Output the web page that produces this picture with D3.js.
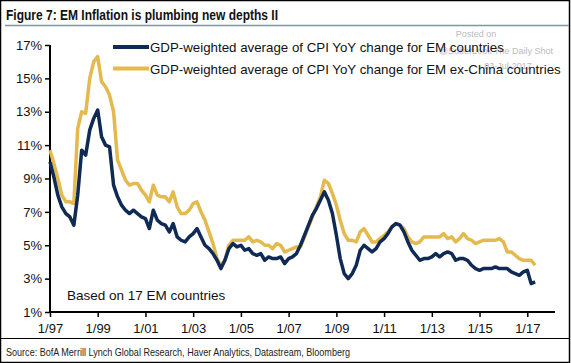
<!DOCTYPE html>
<html>
<head>
<meta charset="utf-8">
<script src="https://cdn.jsdelivr.net/npm/d3@7"></script>
<style>
  body { margin: 0; background: #fff; }
  svg { display: block; }
</style>
</head>
<body>
<svg id="chart"></svg>
<script>
// sample months (every two months, Jan 1997 - May 2017)
var months = [
  "1997-01","1997-03","1997-05","1997-07","1997-09","1997-11",
  "1998-01","1998-03","1998-05","1998-07","1998-09","1998-11",
  "1999-01","1999-03","1999-05","1999-07","1999-09","1999-11",
  "2000-01","2000-03","2000-05","2000-07","2000-09","2000-11",
  "2001-01","2001-03","2001-05","2001-07","2001-09","2001-11",
  "2002-01","2002-03","2002-05","2002-07","2002-09","2002-11",
  "2003-01","2003-03","2003-05","2003-07","2003-09","2003-11",
  "2004-01","2004-03","2004-05","2004-07","2004-09","2004-11",
  "2005-01","2005-03","2005-05","2005-07","2005-09","2005-11",
  "2006-01","2006-03","2006-05","2006-07","2006-09","2006-11",
  "2007-01","2007-03","2007-05","2007-07","2007-09","2007-11",
  "2008-01","2008-03","2008-05","2008-07","2008-09","2008-11",
  "2009-01","2009-03","2009-05","2009-07","2009-09","2009-11",
  "2010-01","2010-03","2010-05","2010-07","2010-09","2010-11",
  "2011-01","2011-03","2011-05","2011-07","2011-09","2011-11",
  "2012-01","2012-03","2012-05","2012-07","2012-09","2012-11",
  "2013-01","2013-03","2013-05","2013-07","2013-09","2013-11",
  "2014-01","2014-03","2014-05","2014-07","2014-09","2014-11",
  "2015-01","2015-03","2015-05","2015-07","2015-09","2015-11",
  "2016-01","2016-03","2016-05","2016-07","2016-09","2016-11",
  "2017-01","2017-03","2017-05"
]

// GDP-weighted CPI YoY, EM countries (%)
var emAll = [
  10.0, 9.1, 8.0, 7.3, 6.9, 6.7,
  6.2, 8.0, 10.7, 10.4, 11.9, 12.6,
  13.1, 11.5, 11.0, 10.9, 8.6, 7.9,
  7.4, 7.1, 6.9, 7.1, 6.9, 6.7,
  6.6, 6.0, 7.1, 6.5, 6.3, 6.2,
  5.8, 6.3, 5.5, 5.3, 5.2, 5.5,
  5.7, 6.0, 5.5, 5.0, 4.8, 4.5,
  4.1, 3.6, 4.1, 4.8, 5.1, 4.9,
  5.0, 4.7, 4.8, 4.5, 4.4, 4.5,
  4.1, 4.3, 4.2, 4.2, 4.3, 3.9,
  4.2, 4.3, 4.5, 5.0, 5.6, 6.2,
  6.8, 7.2, 7.7, 8.2, 7.7, 6.9,
  5.6, 4.2, 3.3, 3.0, 3.3, 3.8,
  4.7, 5.0, 4.8, 4.6, 4.8, 5.2,
  5.4, 5.7, 6.1, 6.3, 6.2, 5.8,
  5.2, 4.7, 4.4, 4.1, 4.2, 4.2,
  4.3, 4.5, 4.3, 4.5, 4.6, 4.5,
  4.1, 4.2, 4.2, 4.1, 3.8, 3.6,
  3.5, 3.6, 3.6, 3.6, 3.7, 3.6,
  3.6, 3.6, 3.4, 3.3, 3.2, 3.4,
  3.5, 2.7, 2.8
]

// GDP-weighted CPI YoY, EM ex-China (%)
var emExChina = [
  10.7, 9.9, 9.0, 8.0, 7.6, 7.6,
  7.5, 12.0, 13.0, 12.9, 15.0, 16.0,
  16.3, 14.8, 14.5, 14.0, 13.0, 10.1,
  9.5, 8.9, 8.6, 8.7, 8.7, 8.3,
  8.0, 7.6, 8.6, 8.0, 7.9, 7.9,
  7.6, 8.2, 7.3, 6.9, 6.9, 7.1,
  7.5, 7.6, 7.0, 6.5, 5.8, 5.1,
  4.2, 3.8, 4.1, 5.0, 5.3, 5.3,
  5.3, 5.3, 5.5, 5.2, 5.3, 5.2,
  5.0, 5.0, 4.8, 5.1, 5.0, 4.6,
  4.7, 4.8, 4.9, 4.9, 5.5, 6.1,
  6.7, 7.3, 7.9, 8.9, 8.7, 8.1,
  7.4, 6.5, 5.7, 5.3, 5.3, 5.2,
  5.8, 6.0, 5.6, 5.2, 5.2, 5.4,
  5.6, 5.8, 6.1, 6.3, 6.2, 6.0,
  5.5, 5.2, 5.1, 5.2, 5.5, 5.5,
  5.5, 5.5, 5.5, 5.7, 5.4, 5.5,
  5.2, 5.4, 5.7, 5.4, 5.3, 5.1,
  5.2, 5.3, 5.3, 5.3, 5.3, 5.4,
  5.2, 4.6, 4.6, 4.4, 4.2, 4.1,
  4.1, 4.1, 3.8
]

var yTicks = [1, 3, 5, 7, 9, 11, 13, 15, 17]
var xTickYears = [1997, 1999, 2001, 2003, 2005, 2007, 2009, 2011, 2013, 2015, 2017]

var seriesNames = [
  "GDP-weighted average of CPI YoY change for EM countries",
  "GDP-weighted average of CPI YoY change for EM ex-China countries"
]
var seriesColors = ["#0f2a55", "#e4b94e"]

var W = 571, H = 363
var svg = d3.select("#chart").attr("width", W).attr("height", H)

// frame, title and rules
svg.append("rect")
    .attr("x", 0.5).attr("y", 0.5)
    .attr("width", W - 2).attr("height", H - 1)
    .attr("fill", "none").attr("stroke", "#000").attr("stroke-width", 1.5)

svg.append("text")
    .attr("x", 6).attr("y", 20)
    .attr("font-family", "'Liberation Sans Narrow', 'Arial Narrow', sans-serif")
    .attr("font-weight", "bold")
    .attr("font-size", 15)
    .attr("fill", "#111")
    .attr("textLength", 272)
    .attr("lengthAdjust", "spacingAndGlyphs")
    .text("Figure 7: EM Inflation is plumbing new depths II")

svg.append("line")
    .attr("x1", 5).attr("x2", W - 2)
    .attr("y1", 25.5).attr("y2", 25.5)
    .attr("stroke", "#7f93b2").attr("stroke-width", 1.5)

svg.append("line")
    .attr("x1", 1).attr("x2", W - 2)
    .attr("y1", 338.5).attr("y2", 338.5)
    .attr("stroke", "#000").attr("stroke-width", 1)

svg.append("text")
    .attr("x", 6).attr("y", 356)
    .attr("font-family", "'Liberation Sans Narrow', 'Arial Narrow', sans-serif")
    .attr("font-size", 11)
    .attr("fill", "#222")
    .attr("textLength", 344)
    .attr("lengthAdjust", "spacingAndGlyphs")
    .text("Source: BofA Merrill Lynch Global Research, Haver Analytics, Datastream, Bloomberg")

// scales
var parse = d3.timeParse("%Y-%m")
var x = d3.scaleTime()
    .domain([new Date(1997, 0, 1), new Date(2018, 2, 1)])
    .range([50, 555])
var y = d3.scaleLinear()
    .domain([1, 17])
    .range([312, 45])

var font = "'Liberation Sans', Arial, sans-serif"

// y axis
var yAxis = svg.append("g")
    .attr("transform", "translate(50,0)")
    .call(d3.axisLeft(y).tickValues(yTicks).tickSize(5).tickPadding(3).tickFormat(d => d + "%"))
yAxis.selectAll("text").attr("font-family", font).attr("font-size", 13).attr("fill", "#111")
yAxis.selectAll("line").attr("stroke", "#000").attr("stroke-width", 1.5)
yAxis.select(".domain").attr("stroke", "#000").attr("stroke-width", 2)
    .attr("d", "M0," + y(17) + "V" + y(1))

// x axis
var xAxis = svg.append("g")
    .attr("transform", "translate(0,312)")
    .call(d3.axisBottom(x)
        .tickValues(xTickYears.map(yr => new Date(yr, 0, 1)))
        .tickSize(5).tickPadding(7)
        .tickFormat(d3.timeFormat("1/%y")))
xAxis.selectAll("text").attr("font-family", font).attr("font-size", 13).attr("fill", "#111")
xAxis.selectAll("line").attr("stroke", "#000").attr("stroke-width", 1.5)
xAxis.select(".domain").attr("stroke", "#000").attr("stroke-width", 2)
    .attr("d", "M50,0H" + x.range()[1])

// watermark (sits behind the legend text, as in the original)
var wm = svg.append("g")
    .attr("font-family", font).attr("font-size", 9).attr("fill", "#bcbcbc")
    .attr("text-anchor", "middle")
wm.append("text").attr("x", 476).attr("y", 37).text("Posted on")
wm.append("text").attr("x", 496).attr("y", 54).text("@SoberLook The Daily Shot")
wm.append("text").attr("x", 508).attr("y", 69).text("03-Jul-2017")

// lines
var line = d3.line()
    .x(d => x(d.date))
    .y(d => y(d.value))

var series = [emExChina, emAll].map(vals =>
    months.map((m, i) => ({ date: parse(m), value: vals[i] })))
var order = [1, 0]

svg.append("g").selectAll("path")
    .data(series)
    .join("path")
    .attr("d", line)
    .attr("fill", "none")
    .attr("stroke", (d, i) => seriesColors[order[i]])
    .attr("stroke-width", 3.5)
    .attr("stroke-linejoin", "round")

// legend
var legend = svg.append("g")
seriesNames.forEach(function(name, i) {
    var ly = 47 + i * 21.5
    legend.append("line")
        .attr("x1", 113).attr("x2", 149)
        .attr("y1", ly).attr("y2", ly)
        .attr("stroke", seriesColors[i]).attr("stroke-width", 4)
    legend.append("text")
        .attr("x", 150).attr("y", ly + 5)
        .attr("font-family", font).attr("font-size", 13.3)
        .attr("fill", "#111")
        .text(name)
})

svg.append("text")
    .attr("x", 67).attr("y", 300)
    .attr("font-family", font).attr("font-size", 13.5)
    .attr("fill", "#111")
    .text("Based on 17 EM countries")
</script>
</body>
</html>
